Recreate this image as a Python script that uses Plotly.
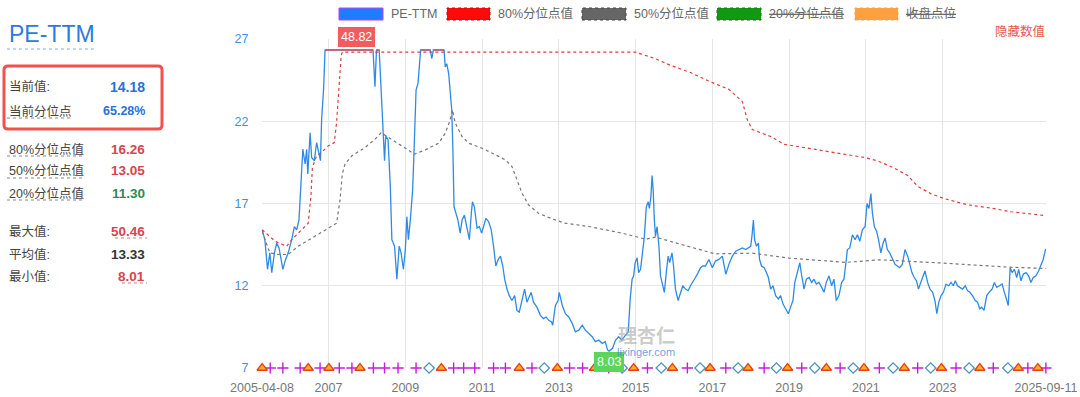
import plotly.graph_objects as go
from datetime import datetime

W, H = 1080, 397

# ---------------- data ----------------
# PE-TTM (decimal year, value); values above the chart cap are drawn at the cap
pe_t = [2005.27, 2005.34, 2005.41, 2005.47, 2005.52, 2005.59, 2005.65, 2005.71, 2005.81, 2005.88,
        2005.95, 2006.04, 2006.11, 2006.17, 2006.23, 2006.28, 2006.33, 2006.39, 2006.43, 2006.46,
        2006.52, 2006.56, 2006.63, 2006.69, 2006.75, 2006.79, 2006.82, 2006.87, 2006.91, 2007.00,
        2007.15, 2007.35, 2007.55, 2007.73, 2007.90, 2008.05, 2008.16, 2008.21, 2008.25, 2008.32,
        2008.37, 2008.42, 2008.46, 2008.49, 2008.55, 2008.61, 2008.65, 2008.72, 2008.78, 2008.84,
        2008.89, 2008.95, 2009.00, 2009.04, 2009.08, 2009.13, 2009.19, 2009.22, 2009.26, 2009.28,
        2009.33, 2009.36, 2009.40, 2009.47, 2009.57, 2009.65, 2009.69, 2009.73, 2009.85, 2009.95,
        2010.01, 2010.04, 2010.08, 2010.13, 2010.17, 2010.21, 2010.24, 2010.27, 2010.32, 2010.37,
        2010.43, 2010.48, 2010.54, 2010.61, 2010.67, 2010.72, 2010.75, 2010.80, 2010.87, 2010.93,
        2010.99, 2011.04, 2011.10, 2011.17, 2011.24, 2011.30, 2011.36, 2011.42, 2011.48, 2011.54,
        2011.59, 2011.65, 2011.71, 2011.78, 2011.85, 2011.91, 2011.97, 2012.04, 2012.11, 2012.17,
        2012.23, 2012.28, 2012.34, 2012.43, 2012.52, 2012.60, 2012.67, 2012.74, 2012.81, 2012.84,
        2012.91, 2012.98, 2013.01, 2013.09, 2013.17, 2013.26, 2013.35, 2013.43, 2013.52, 2013.61,
        2013.69, 2013.78, 2013.87, 2013.95, 2014.04, 2014.13, 2014.21, 2014.27, 2014.31, 2014.40,
        2014.48, 2014.56, 2014.64, 2014.74, 2014.81, 2014.86, 2014.91, 2014.95, 2014.99, 2015.04,
        2015.08, 2015.13, 2015.19, 2015.23, 2015.28, 2015.33, 2015.36, 2015.40, 2015.43, 2015.46,
        2015.49, 2015.52, 2015.56, 2015.61, 2015.65, 2015.69, 2015.75, 2015.81, 2015.85, 2015.89,
        2015.95, 2015.99, 2016.04, 2016.11, 2016.17, 2016.23, 2016.30, 2016.37, 2016.43, 2016.49,
        2016.56, 2016.63, 2016.69, 2016.75, 2016.82, 2016.91, 2017.00, 2017.08, 2017.17, 2017.26,
        2017.35, 2017.43, 2017.52, 2017.61, 2017.69, 2017.78, 2017.87, 2017.94, 2018.00, 2018.04,
        2018.07, 2018.10, 2018.15, 2018.20, 2018.23, 2018.28, 2018.35, 2018.41, 2018.46, 2018.52,
        2018.58, 2018.65, 2018.72, 2018.78, 2018.84, 2018.91, 2018.98, 2019.04, 2019.10, 2019.15,
        2019.22, 2019.28, 2019.33, 2019.39, 2019.45, 2019.52, 2019.59, 2019.65, 2019.71, 2019.78,
        2019.85, 2019.91, 2019.97, 2020.04, 2020.11, 2020.17, 2020.23, 2020.30, 2020.37, 2020.43,
        2020.48, 2020.52, 2020.58, 2020.65, 2020.72, 2020.78, 2020.84, 2020.91, 2020.98, 2021.03,
        2021.08, 2021.13, 2021.17, 2021.22, 2021.28, 2021.33, 2021.39, 2021.45, 2021.50, 2021.56,
        2021.62, 2021.69, 2021.76, 2021.82, 2021.88, 2021.95, 2022.02, 2022.09, 2022.13, 2022.20,
        2022.26, 2022.32, 2022.37, 2022.43, 2022.49, 2022.54, 2022.61, 2022.67, 2022.74, 2022.80,
        2022.85, 2022.90, 2022.96, 2023.02, 2023.09, 2023.16, 2023.22, 2023.28, 2023.33, 2023.39,
        2023.45, 2023.52, 2023.59, 2023.65, 2023.71, 2023.78, 2023.85, 2023.91, 2023.97, 2024.02,
        2024.08, 2024.15, 2024.21, 2024.29, 2024.35, 2024.41, 2024.48, 2024.55, 2024.61, 2024.67,
        2024.71, 2024.76, 2024.81, 2024.87, 2024.93, 2024.98, 2025.04, 2025.10, 2025.17, 2025.24,
        2025.30, 2025.36, 2025.43, 2025.50, 2025.56, 2025.62, 2025.68, 2025.694]
pe_v = [15.4, 14.8, 13.0, 14.0, 12.8, 14.0, 14.6, 14.3, 13.0, 13.6,
        14.0, 14.8, 15.6, 15.4, 16.0, 18.0, 20.3, 19.4, 20.3, 18.8,
        21.3, 19.8, 19.6, 20.7, 20.1, 19.6, 22.1, 23.9, 27.0, 29.5,
        33.0, 38.5, 43.0, 48.82, 44.0, 36.0, 29.0, 24.1, 27.5, 26.8,
        24.1, 21.3, 19.6, 21.1, 20.9, 18.0, 14.8, 14.4, 12.4, 14.4,
        14.0, 13.0, 14.2, 16.2, 14.8, 16.0, 17.8, 19.7, 21.9, 23.9,
        24.3, 25.3, 26.5, 29.0, 31.5, 28.0, 25.8, 28.5, 30.5, 28.0,
        26.6, 25.3, 25.5, 24.9, 23.9, 22.7, 20.3, 16.8, 16.4, 16.0,
        15.2, 16.0, 16.3, 15.4, 14.8, 16.4, 17.1, 16.8, 15.5, 15.6,
        15.2, 15.6, 16.1, 15.9, 15.4, 14.4, 13.2, 13.6, 13.8, 13.2,
        12.4, 11.8, 11.4, 11.1, 11.4, 10.5, 10.4, 11.1, 11.8, 11.0,
        11.4, 11.6, 11.0, 10.7, 10.2, 10.0, 10.1, 9.9, 9.8, 9.6,
        10.8, 11.1, 11.6, 10.8, 10.3, 10.1, 9.7, 9.2, 9.3, 9.6,
        9.3, 9.1, 8.9, 8.6, 8.7, 8.5, 8.6, 8.1, 8.03, 8.2,
        8.7, 8.9, 8.7, 9.0, 9.2, 11.2, 12.4, 12.6, 13.4, 13.7,
        12.8, 13.0, 14.2, 15.0, 16.8, 17.1, 16.7, 17.4, 18.7, 17.8,
        16.0, 15.0, 15.6, 14.4, 12.6, 12.2, 11.6, 13.0, 13.8, 13.4,
        14.0, 13.2, 11.8, 11.1, 11.6, 12.0, 11.8, 11.7, 12.0, 12.2,
        12.5, 12.8, 13.1, 13.2, 13.2, 13.6, 13.1, 13.5, 13.6, 13.8,
        12.7, 13.3, 13.8, 14.1, 14.2, 14.3, 14.2, 14.3, 14.4, 15.2,
        16.0, 14.8, 14.4, 14.6, 13.6, 13.2, 13.1, 12.8, 12.5, 11.8,
        12.0, 11.4, 11.2, 11.4, 10.9, 10.6, 10.3, 10.7, 11.1, 12.2,
        12.8, 13.4, 12.6, 11.8, 12.4, 12.5, 12.2, 12.4, 12.1, 12.2,
        11.9, 11.6, 12.2, 12.6, 12.0, 12.4, 11.1, 11.4, 12.2, 12.4,
        13.4, 14.2, 14.3, 15.1, 14.8, 15.1, 14.7, 15.4, 15.6, 17.0,
        16.7, 17.6, 16.4, 15.6, 15.3, 14.8, 14.0, 14.6, 14.9, 14.2,
        14.0, 13.6, 13.3, 13.2, 13.1, 13.3, 14.2, 13.8, 13.4, 12.8,
        12.5, 12.3, 11.8, 12.2, 12.7, 12.9, 12.2, 11.8, 11.6, 11.1,
        10.3, 11.0, 11.4, 11.6, 12.1, 12.0, 12.2, 12.0, 12.3, 12.0,
        11.9, 11.8, 12.0, 11.7, 11.6, 11.4, 11.1, 11.0, 10.6, 10.7,
        10.5, 11.4, 11.6, 11.8, 12.2, 11.9, 12.0, 12.1, 11.6, 11.2,
        10.8, 13.1, 12.8, 13.0, 12.5, 13.0, 12.3, 12.7, 12.8, 12.6,
        12.2, 12.5, 12.6, 12.9, 13.3, 13.6, 14.2, 14.18]

# 80% percentile line
p80_t = [2005.27, 2005.61, 2005.91, 2006.04, 2006.21, 2006.47, 2006.54, 2006.58, 2006.69, 2006.82,
         2006.99, 2007.15, 2007.21, 2007.27, 2007.33, 2007.36, 2015.00, 2015.13, 2015.52, 2015.91,
         2016.43, 2016.95, 2017.43, 2017.78, 2017.91, 2018.04, 2018.52, 2018.87, 2019.91, 2020.95,
         2021.30, 2021.74, 2022.09, 2022.35, 2022.69, 2023.04, 2023.65, 2024.26, 2024.78, 2025.694]
p80_v = [15.4, 14.7, 14.4, 14.8, 15.2, 15.8, 17.4, 19.2, 19.9, 20.1,
         20.5, 20.7, 21.9, 24.3, 26.0, 26.2, 26.2, 26.1, 25.8, 25.4,
         24.96, 24.4, 23.94, 23.2, 22.1, 21.5, 21.07, 20.6, 20.2, 19.8,
         19.6, 19.15, 18.7, 18.05, 17.6, 17.3, 16.92, 16.72, 16.5, 16.26]

# 50% percentile line
p50_t = [2005.27, 2005.34, 2005.47, 2005.69, 2005.95, 2006.21, 2006.56, 2006.91, 2007.21, 2007.30,
         2007.36, 2007.43, 2007.61, 2007.95, 2008.21, 2008.37, 2008.56, 2008.91, 2009.24, 2009.52,
         2009.87, 2010.04, 2010.17, 2010.23, 2010.30, 2010.48, 2010.65, 2011.00, 2011.35, 2011.61,
         2011.78, 2011.91, 2012.04, 2012.21, 2012.47, 2012.82, 2013.15, 2013.78, 2014.65, 2015.26,
         2015.52, 2016.22, 2017.07, 2018.04, 2019.00, 2020.48, 2021.35, 2022.99, 2024.73, 2025.694]
p50_v = [15.3, 14.8, 14.0, 13.9, 13.9, 14.4, 14.9, 15.4, 15.8, 17.2,
         18.8, 19.4, 19.9, 20.4, 20.9, 21.3, 21.0, 20.5, 20.0, 20.26,
         20.67, 21.27, 22.08, 22.69, 21.9, 21.07, 20.67, 20.36, 19.96, 19.65,
         19.25, 18.44, 17.63, 16.92, 16.41, 16.07, 15.81, 15.6, 15.2, 14.83,
         14.96, 14.49, 13.94, 13.98, 13.68, 13.42, 13.58, 13.38, 13.13, 13.05]

# event markers on the bottom axis
tri_t = [2005.27, 2006.47, 2007.01, 2007.82, 2009.94, 2011.97, 2012.96, 2013.93, 2014.95, 2015.96,
         2016.94, 2017.93, 2018.96, 2019.97, 2020.95, 2022.00, 2022.97, 2023.97, 2024.97, 2025.48]
dia_t = [2009.62, 2012.62, 2014.65, 2015.67, 2016.68, 2017.67, 2018.67, 2019.67, 2020.67, 2021.71,
         2022.69, 2023.69, 2024.70]
plus_t = [2005.48, 2005.81, 2006.26, 2006.78, 2007.28, 2007.61, 2008.17, 2008.46, 2008.81, 2009.28,
          2010.26, 2010.52, 2010.81, 2011.30, 2011.61, 2012.30, 2013.28, 2013.62, 2014.30, 2015.31,
          2016.35, 2017.35, 2018.35, 2019.33, 2020.33, 2021.35, 2022.35, 2023.35, 2024.32, 2025.22,
          2025.69]

x_start, x_end = "2005-04-08", "2025-09-11"
tick_vals = [x_start, "2007-01-01", "2009-01-01", "2011-01-01", "2013-01-01", "2015-01-01",
             "2017-01-01", "2019-01-01", "2021-01-01", "2023-01-01", x_end]
tick_text = ["2005-04-08", "2007", "2009", "2011", "2013", "2015", "2017", "2019", "2021", "2023",
             "2025-09-11"]
y_ticks = [7, 12, 17, 22, 27]

stats_labels = ["当前值:", "当前分位点", "80%分位点值", "50%分位点值", "20%分位点值", "最大值:", "平均值:", "最小值:"]
stats_values = ["14.18", "65.28%", "16.26", "13.05", "11.30", "50.46", "13.33", "8.01"]
peak_label, min_label = "48.82", "8.03"

legend_names = ["PE-TTM", "80%分位点值", "50%分位点值", "<s>20%分位点值</s>", "<s>收盘点位</s>"]

CAP = 26.33


def d(y):
    year = int(y)
    a, b = datetime(year, 1, 1), datetime(year + 1, 1, 1)
    return a + (b - a) * (y - year)


def px(x):
    return x / W


def py(y):
    return 1 - y / H


FONT = "Liberation Sans, Arial, Noto Sans CJK SC, sans-serif"

fig = go.Figure()

pe_x = [d(t) for t in pe_t]
fig.add_trace(go.Scatter(x=pe_x, y=[min(v, CAP) for v in pe_v], mode="lines",
                         line=dict(color="#2e8ae6", width=1.3), hoverinfo="skip"))
fig.add_trace(go.Scatter(x=pe_x, y=[CAP if v >= CAP else None for v in pe_v], mode="lines",
                         line=dict(color="#e05252", width=1.3), connectgaps=False, hoverinfo="skip"))
fig.add_trace(go.Scatter(x=[d(t) for t in p80_t], y=p80_v, mode="lines",
                         line=dict(color="#e23a3a", width=1.2, dash="dot"), hoverinfo="skip"))
fig.add_trace(go.Scatter(x=[d(t) for t in p50_t], y=p50_v, mode="lines",
                         line=dict(color="#777777", width=1.2, dash="dot"), hoverinfo="skip"))

fig.add_trace(go.Scatter(x=[d(t) for t in plus_t], y=[7] * len(plus_t), mode="markers",
                         marker=dict(symbol="cross-thin", size=8, line=dict(color="#c21fd6", width=1.4)),
                         cliponaxis=False, hoverinfo="skip"))
fig.add_trace(go.Scatter(x=[d(t) for t in dia_t], y=[7] * len(dia_t), mode="markers",
                         marker=dict(symbol="diamond-open", size=8, color="#4b93bd",
                                     line=dict(color="#4b93bd", width=1.3)),
                         cliponaxis=False, hoverinfo="skip"))
fig.add_trace(go.Scatter(x=[d(t) for t in tri_t], y=[7] * len(tri_t), mode="markers",
                         marker=dict(symbol="triangle-up", size=9, color="#ffae1f",
                                     line=dict(color="#e8401c", width=1.3)),
                         cliponaxis=False, hoverinfo="skip"))

shapes = []
annotations = []

# left panel
annotations.append(dict(x=px(7), y=py(34), xref="paper", yref="paper", text="PE-TTM", showarrow=False,
                        xanchor="left", yanchor="middle", font=dict(size=23, color="#2a7ae2", family=FONT)))
shapes.append(dict(type="line", xref="paper", yref="paper", x0=px(7), x1=px(95), y0=py(49), y1=py(49),
                   line=dict(color="#7fb0ee", width=1, dash="dot")))
shapes.append(dict(type="path", xref="paper", yref="paper",
                   path=f"M {px(8)},{py(66)} L {px(158)},{py(66)} Q {px(162)},{py(66)} {px(162)},{py(70)} "
                        f"L {px(162)},{py(125)} Q {px(162)},{py(129)} {px(158)},{py(129)} "
                        f"L {px(8)},{py(129)} Q {px(4)},{py(129)} {px(4)},{py(125)} "
                        f"L {px(4)},{py(70)} Q {px(4)},{py(66)} {px(8)},{py(66)} Z",
                   line=dict(color="#ef5350", width=3)))
rows_y = [87, 111, 149, 171, 193, 231, 254, 276]
val_colors = ["#2a6fdb", "#2a6fdb", "#d9434f", "#d9434f", "#2e8b57", "#d9434f", "#333333", "#d9434f"]
val_sizes = [14, 12.5, 13.5, 13.5, 13.5, 13.5, 13.5, 13.5]
for lab, val, yy, col, sz in zip(stats_labels, stats_values, rows_y, val_colors, val_sizes):
    annotations.append(dict(x=px(7), y=py(yy), xref="paper", yref="paper", text=lab, showarrow=False,
                            xanchor="left", yanchor="middle", font=dict(size=12.5, color="#444", family=FONT)))
    annotations.append(dict(x=px(147), y=py(yy), xref="paper", yref="paper", text=f"<b>{val}</b>",
                            showarrow=False, xanchor="right", yanchor="middle",
                            font=dict(size=sz, color=col, family=FONT)))
for yy, x1 in [(118, 70), (156, 83), (178, 83), (200, 83)]:
    shapes.append(dict(type="line", xref="paper", yref="paper", x0=px(7), x1=px(x1), y0=py(yy), y1=py(yy),
                       line=dict(color="#888", width=1, dash="dot")))
for yy, x0 in [(238, 115), (283, 122)]:
    shapes.append(dict(type="line", xref="paper", yref="paper", x0=px(x0), x1=px(147), y0=py(yy), y1=py(yy),
                       line=dict(color="#e57373", width=1, dash="dot")))

# legend (drawn)
leg_boxes = [(339, 383), (447, 490), (582, 626), (717, 761), (855, 898)]
leg_fill = ["#1f7bff", "#ff0a0a", "#666666", "#119911", "#ffa040"]
leg_line = ["#c040ff", "#cc0000", "#444444", "#0a7a0a", "#ffa040"]
for (a, b), fc, lc, name in zip(leg_boxes, leg_fill, leg_line, legend_names):
    shapes.append(dict(type="rect", xref="paper", yref="paper", x0=px(a), x1=px(b), y0=py(20), y1=py(8),
                       fillcolor=fc, line=dict(color=lc, width=1, dash="dot" if fc != "#1f7bff" else "solid")))
    annotations.append(dict(x=px(b + 6), y=py(14), xref="paper", yref="paper", text=name, showarrow=False,
                            xanchor="left", yanchor="middle", font=dict(size=12.5, color="#666", family=FONT)))
annotations.append(dict(x=px(1047), y=py(31), xref="paper", yref="paper", text="隐藏数值", showarrow=False,
                        xanchor="right", yanchor="middle", font=dict(size=12.5, color="#e8554e", family=FONT)))

# peak / trough labels
peak_i = pe_v.index(max(pe_v))
annotations.append(dict(x=pe_x[peak_i], y=CAP, text=peak_label, showarrow=False, yanchor="bottom",
                        yshift=3, bgcolor="#f25c5c", bordercolor="#f25c5c", borderpad=2,
                        font=dict(size=12.5, color="white", family=FONT)))
min_i = pe_v.index(min(pe_v))
annotations.append(dict(x=pe_x[min_i], y=pe_v[min_i], text=min_label, showarrow=False, yanchor="top",
                        yshift=-1, bgcolor="#5bd65b", bordercolor="#5bd65b", borderpad=2,
                        font=dict(size=12.5, color="white", family=FONT)))

# watermark
annotations.append(dict(x=px(646), y=py(334), xref="paper", yref="paper", text="<b>理杏仁</b>", showarrow=False,
                        xanchor="center", yanchor="middle",
                        font=dict(size=19, color="rgba(170,170,170,0.6)", family="Noto Sans CJK SC")))
annotations.append(dict(x=px(646), y=py(352), xref="paper", yref="paper", text="lixinger.com", showarrow=False,
                        xanchor="center", yanchor="middle",
                        font=dict(size=11, color="rgba(60,130,220,0.75)", family=FONT)))

fig.update_layout(
    width=W, height=H, margin=dict(l=0, r=0, t=0, b=0, pad=0, autoexpand=False),
    paper_bgcolor="white", plot_bgcolor="white", showlegend=False,
    font=dict(family=FONT), hovermode=False,
    shapes=shapes, annotations=annotations,
    xaxis=dict(type="date", domain=[262 / W, 1046 / W], range=[x_start, x_end], automargin=False,
               tickvals=tick_vals, ticktext=tick_text, showgrid=True, gridcolor="#e6e6e6", gridwidth=1,
               zeroline=False, showline=False, ticks="outside", ticklen=8, tickcolor="rgba(0,0,0,0)",
               tickfont=dict(size=12.5, color="#777")),
    yaxis=dict(domain=[1 - 368 / H, 1 - 39 / H], range=[7, 27], tickvals=y_ticks, automargin=False,
               showgrid=True, gridcolor="#e6e6e6", zeroline=False, showline=False,
               ticks="outside", ticklen=10, tickcolor="rgba(0,0,0,0)",
               tickfont=dict(size=12.5, color="#3d8fe0")),
)

fig.write_html("out.html", config={"displayModeBar": False, "staticPlot": True},
               post_script="document.body.style.margin='0';document.body.style.padding='0';"
                           "document.body.style.overflow='hidden';")
